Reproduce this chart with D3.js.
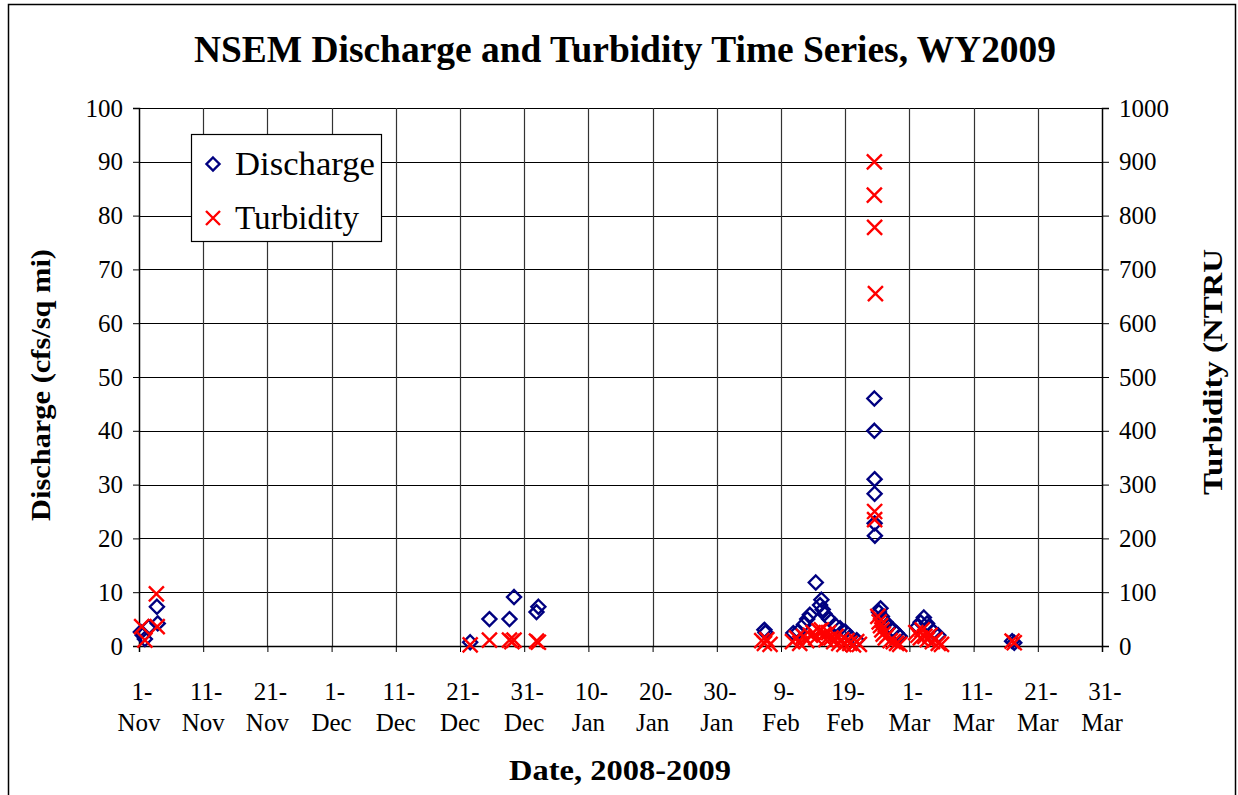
<!DOCTYPE html>
<html>
<head>
<meta charset="utf-8">
<script src="https://cdn.jsdelivr.net/npm/d3@7"></script>
<style>
  body { margin: 0; background: #fff; }
  svg { display: block; font-family: "Liberation Serif", "Times New Roman", serif; }
</style>
</head>
<body>
<svg id="chart" width="1238" height="795"></svg>
<script>
const W = 1238, H = 795;

// discharge samples (cfs/sq mi)
const dischargeTimes = [
  "2008-11-01T07:00", "2008-11-01T14:00", "2008-11-01T22:00", "2008-11-02T12:00", "2008-11-03T22:00", "2008-11-03T19:00",
  "2008-12-22T14:00", "2008-12-25T14:00", "2008-12-28T17:00", "2008-12-29T10:00", "2009-01-01T22:00", "2009-01-02T05:00",
  "2009-02-06T10:00", "2009-02-06T14:00",
  "2009-02-10T22:00", "2009-02-11T17:00", "2009-02-12T14:00", "2009-02-13T02:00", "2009-02-13T12:00", "2009-02-14T10:00",
  "2009-02-15T02:00", "2009-02-15T07:00", "2009-02-15T12:00", "2009-02-15T18:00", "2009-02-16T12:00", "2009-02-17T10:00",
  "2009-02-18T05:00", "2009-02-19T00:00", "2009-02-19T19:00", "2009-02-20T19:00",
  "2009-02-23T13:00", "2009-02-23T13:00", "2009-02-23T14:00", "2009-02-23T14:00", "2009-02-23T14:00", "2009-02-23T15:00",
  "2009-02-24T06:00", "2009-02-24T12:00", "2009-02-24T17:00", "2009-02-25T06:00", "2009-02-25T18:00", "2009-02-26T12:00",
  "2009-02-27T00:00", "2009-02-27T12:00",
  "2009-03-02T06:00", "2009-03-02T18:00", "2009-03-03T06:00", "2009-03-03T18:00", "2009-03-04T06:00", "2009-03-04T18:00",
  "2009-03-05T12:00",
  "2009-03-17T00:00", "2009-03-17T08:00"
];
const dischargeValues = [
  2.6, 2.0, 1.3, 3.5, 4.2, 7.3,
  0.7, 5.0, 5.0, 9.1, 6.3, 7.3,
  3.0, 2.5,
  2.4, 2.7, 4.0, 5.0, 5.8, 11.8,
  7.6, 8.6, 6.8, 6.0, 5.0, 3.9,
  3.3, 2.7, 1.7, 1.1,
  46.0, 40.0, 31.0, 28.3, 22.8, 20.5,
  6.3, 7.0, 5.5, 4.5, 3.6, 3.0,
  2.4, 1.8,
  3.6, 4.4, 5.3, 4.2, 3.3, 2.6,
  2.0,
  0.9, 0.6
];

// turbidity samples (NTRU)
const turbidityTimes = [
  "2008-11-01T10:00", "2008-11-01T22:00", "2008-11-03T20:00", "2008-11-03T17:00",
  "2008-12-22T14:00", "2008-12-25T14:00", "2008-12-28T17:00", "2008-12-29T10:00", "2008-12-29T02:00", "2009-01-02T05:00", "2009-01-01T22:00",
  "2009-02-06T00:00", "2009-02-06T10:00", "2009-02-06T19:00", "2009-02-07T07:00",
  "2009-02-10T19:00", "2009-02-11T10:00", "2009-02-11T22:00", "2009-02-12T12:00", "2009-02-13T00:00", "2009-02-13T14:00",
  "2009-02-14T00:00", "2009-02-14T10:00", "2009-02-14T22:00", "2009-02-15T07:00", "2009-02-15T17:00", "2009-02-16T00:00",
  "2009-02-16T10:00", "2009-02-16T19:00", "2009-02-17T05:00", "2009-02-17T14:00", "2009-02-18T00:00", "2009-02-18T10:00",
  "2009-02-18T19:00", "2009-02-19T07:00", "2009-02-19T17:00", "2009-02-20T07:00", "2009-02-20T19:00", "2009-02-21T05:00",
  "2009-02-23T13:00", "2009-02-23T13:00", "2009-02-23T14:00", "2009-02-23T17:00", "2009-02-23T14:00", "2009-02-23T14:00",
  "2009-02-24T02:00", "2009-02-24T07:00", "2009-02-24T12:00", "2009-02-24T17:00", "2009-02-24T22:00", "2009-02-25T06:00",
  "2009-02-25T14:00", "2009-02-26T00:00", "2009-02-26T12:00", "2009-02-27T00:00", "2009-02-27T12:00",
  "2009-03-02T00:00", "2009-03-02T08:00", "2009-03-02T17:00", "2009-03-03T00:00", "2009-03-03T10:00", "2009-03-03T19:00",
  "2009-03-04T05:00", "2009-03-04T14:00", "2009-03-05T00:00", "2009-03-05T12:00", "2009-03-06T00:00",
  "2009-03-17T00:00", "2009-03-17T08:00"
];
const turbidityValues = [
  36, 11, 36, 97,
  2, 11, 11, 11, 8, 7, 9,
  10, 5, 12, 3,
  8, 15, 5, 18, 10, 20,
  25, 15, 28, 30, 22, 12,
  25, 15, 8, 18, 5, 12,
  3, 10, 5, 2, 8, 3,
  900, 838, 778, 655, 250, 235,
  55, 45, 38, 30, 22, 15,
  20, 10, 8, 5, 3,
  25, 20, 15, 30, 18, 12,
  20, 8, 12, 5, 3,
  9, 6
];

const leftTicks = d3.range(0, 101, 10);
const rightTicks = d3.range(0, 1001, 100);
const xStart = new Date(2008, 10, 1);
const xEnd = new Date(2009, 2, 31);
const xTicks = d3.range(0, 151, 10).map(d => d3.timeDay.offset(xStart, d));

const parse = d3.timeParse("%Y-%m-%dT%H:%M");
const discharge = dischargeTimes.map((t, i) => ({ date: parse(t), value: dischargeValues[i] }));
const turbidity = turbidityTimes.map((t, i) => ({ date: parse(t), value: turbidityValues[i] }));

const m = { left: 139, right: 1102, top: 108, bottom: 646 };

const x = d3.scaleTime().domain([xStart, xEnd]).range([m.left, m.right]);
const yL = d3.scaleLinear().domain([0, 100]).range([m.bottom, m.top]);
const yR = d3.scaleLinear().domain([0, 1000]).range([m.bottom, m.top]);

const svg = d3.select("#chart");

svg.append("rect")
  .attr("x", 8.5).attr("y", 4.5)
  .attr("width", 1227).attr("height", 810)
  .attr("fill", "#fff").attr("stroke", "#000").attr("stroke-width", 1.5);

// grid
svg.append("g")
  .selectAll("line")
  .data(leftTicks.slice(1))
  .join("line")
  .attr("x1", m.left).attr("x2", m.right)
  .attr("y1", d => Math.round(yL(d)) + 0.5).attr("y2", d => Math.round(yL(d)) + 0.5)
  .attr("stroke", "#000").attr("stroke-width", 1.2);

svg.append("g")
  .selectAll("line")
  .data(xTicks.slice(1, -1))
  .join("line")
  .attr("x1", d => Math.round(x(d)) + 0.5).attr("x2", d => Math.round(x(d)) + 0.5)
  .attr("y1", m.top).attr("y2", m.bottom)
  .attr("stroke", "#333").attr("stroke-width", 1.2);

// axes
const tickFont = 25;

const gL = svg.append("g").attr("transform", `translate(${m.left},0)`)
  .call(d3.axisLeft(yL).tickValues(leftTicks).tickSize(6).tickPadding(10).tickFormat(d3.format("d")));
gL.select(".domain").attr("stroke", "#000").attr("stroke-width", 1.5);
gL.selectAll("text").attr("font-size", tickFont).attr("font-family", "Liberation Serif").attr("fill", "#000");

const gR = svg.append("g").attr("transform", `translate(${m.right},0)`)
  .call(d3.axisRight(yR).tickValues(rightTicks).tickSize(7).tickPadding(10).tickFormat(d3.format("d")));
gR.select(".domain").attr("stroke", "#000").attr("stroke-width", 1.5);
gR.selectAll("text").attr("font-size", tickFont).attr("font-family", "Liberation Serif").attr("fill", "#000");

const gX = svg.append("g").attr("transform", `translate(0,${m.bottom})`)
  .call(d3.axisBottom(x).tickValues(xTicks).tickSize(6).tickFormat(""));
gX.select(".domain").attr("stroke", "#000").attr("stroke-width", 1.5);

const dayFmt = d3.timeFormat("%-d-");
const monFmt = d3.timeFormat("%b");
const xl = svg.append("g")
  .selectAll("text")
  .data(xTicks)
  .join("text")
  .attr("text-anchor", "middle")
  .attr("font-size", tickFont);
xl.append("tspan").attr("x", d => x(d) + 3).attr("y", 700).text(d => dayFmt(d));
xl.append("tspan").attr("x", d => x(d)).attr("y", 731).text(d => monFmt(d));

// titles
svg.append("text")
  .attr("x", 625).attr("y", 62)
  .attr("text-anchor", "middle")
  .attr("font-size", 38).attr("font-weight", "bold")
  .attr("textLength", 862).attr("lengthAdjust", "spacingAndGlyphs")
  .text("NSEM Discharge and Turbidity Time Series, WY2009");

svg.append("text")
  .attr("x", 620).attr("y", 780)
  .attr("text-anchor", "middle")
  .attr("font-size", 30).attr("font-weight", "bold")
  .attr("textLength", 222).attr("lengthAdjust", "spacingAndGlyphs")
  .text("Date, 2008-2009");

svg.append("text")
  .attr("transform", "translate(50,385) rotate(-90)")
  .attr("text-anchor", "middle")
  .attr("font-size", 28).attr("font-weight", "bold")
  .attr("textLength", 272).attr("lengthAdjust", "spacingAndGlyphs")
  .text("Discharge (cfs/sq mi)");

svg.append("text")
  .attr("transform", "translate(1222,372) rotate(-90)")
  .attr("text-anchor", "middle")
  .attr("font-size", 28).attr("font-weight", "bold")
  .attr("textLength", 246).attr("lengthAdjust", "spacingAndGlyphs")
  .text("Turbidity (NTRU");

// markers
const diamond = s => `M0,${-s}L${s},0L0,${s}L${-s},0Z`;
const cross = s => `M${-s},${-s}L${s},${s}M${-s},${s}L${s},${-s}`;

svg.append("g")
  .selectAll("path")
  .data(discharge)
  .join("path")
  .attr("transform", d => `translate(${x(d.date)},${yL(d.value)})`)
  .attr("d", diamond(7))
  .attr("fill", "none").attr("stroke", "#000080").attr("stroke-width", 2.4);

svg.append("g")
  .selectAll("path")
  .data(turbidity)
  .join("path")
  .attr("transform", d => `translate(${x(d.date)},${yR(d.value)})`)
  .attr("d", cross(7.5))
  .attr("fill", "none").attr("stroke", "#ff0000").attr("stroke-width", 2.4);

// legend
const lg = svg.append("g").attr("transform", "translate(191,134)");
lg.append("rect").attr("x", 0.5).attr("y", 0.5).attr("width", 190).attr("height", 107)
  .attr("fill", "#fff").attr("stroke", "#000").attr("stroke-width", 1.2);
lg.append("path").attr("transform", "translate(22,30)").attr("d", diamond(6.5))
  .attr("fill", "none").attr("stroke", "#000080").attr("stroke-width", 2.4);
lg.append("path").attr("transform", "translate(22,84)").attr("d", cross(7))
  .attr("fill", "none").attr("stroke", "#ff0000").attr("stroke-width", 2.4);
lg.append("text").attr("x", 44).attr("y", 41).attr("font-size", 34)
  .attr("textLength", 140).attr("lengthAdjust", "spacingAndGlyphs").text("Discharge");
lg.append("text").attr("x", 44).attr("y", 95).attr("font-size", 34)
  .attr("textLength", 124).attr("lengthAdjust", "spacingAndGlyphs").text("Turbidity");
</script>
</body>
</html>
